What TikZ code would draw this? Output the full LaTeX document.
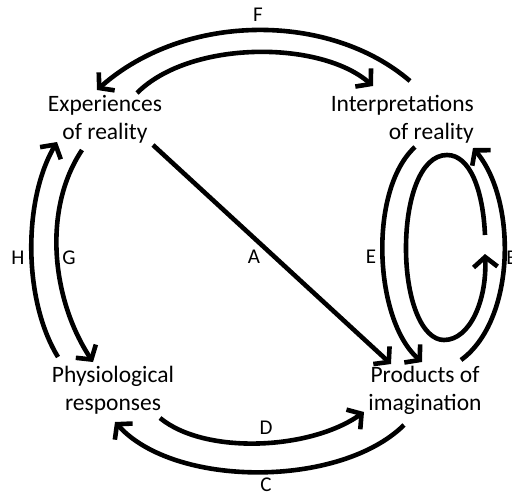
\documentclass[tikz,border=0pt]{standalone}
\usepackage{fontspec}
\setmainfont{Carlito}
\usetikzlibrary{arrows.meta}
\tikzset{
  conn/.style={line width=4.6pt, -{Straight Barb[length=10pt,width=24pt,line width=4.6pt]}},
  place/.style={font=\fontsize{23.5}{28}\selectfont, inner sep=0pt},
  lab/.style={font=\fontsize{21}{24}\selectfont, inner sep=0pt}
}
\begin{document}
\begin{tikzpicture}[x=1pt,y=-1pt]
\useasboundingbox (0,0) rectangle (512,496);
% nodes
\node[place, align=center] (exp) at (105,119) {Experiences\\of reality};
\node[place, align=right, anchor=east] (int) at (474,119) {Interpretations\\of reality};
\node[place, align=center] (phy) at (113,390) {Physiological\\responses};
\node[place, align=center] (pro) at (425,390) {Products of\\imagination};
% connector ends
\coordinate (f1) at (410,81);  \coordinate (f2) at (97,90);
\coordinate (g1) at (137,93);  \coordinate (g2) at (373,86);
\coordinate (h1) at (58,357);  \coordinate (h2) at (57,142);
\coordinate (i1) at (82,150);  \coordinate (i2) at (93,362);
\coordinate (d1) at (160,418); \coordinate (d2) at (364,412);
\coordinate (c1) at (404,425); \coordinate (c2) at (115,422);
\coordinate (a1) at (153,145); \coordinate (a2) at (391,364);
\coordinate (e1) at (415,147); \coordinate (e2) at (422,362);
\coordinate (b1) at (461,360); \coordinate (b2) at (473,148);
\coordinate (l1) at (485,235); \coordinate (l2) at (485,254);
% F (outer top, to Experiences)
\draw[conn] (f1) .. controls (330,12) and (185,12) .. (f2);
% inner top, to Interpretations
\draw[conn] (g1) .. controls (190,40) and (320,40) .. (g2);
% H (outer left, up)
\draw[conn] (h1) .. controls (23,300) and (23,200) .. (h2);
% G (inner left, down)
\draw[conn] (i1) .. controls (42,210) and (52,300) .. (i2);
% D
\draw[conn] (d1) .. controls (205,455) and (310,450) .. (d2);
% C
\draw[conn] (c1) .. controls (340,488) and (175,488) .. (c2);
% A
\draw[conn] (a1) -- (a2);
% E
\draw[conn] (e1) .. controls (368,190) and (374,320) .. (e2);
% B
\draw[conn] (b1) .. controls (516,320) and (517,200) .. (b2);
% inner loop
\draw[conn] (l1) .. controls (483,190) and (470,155) .. (447,155)
  .. controls (420,155) and (406,200) .. (406,248)
  .. controls (406,300) and (422,340) .. (444,340)
  .. controls (470,340) and (487,300) .. (l2);
% labels
\node[lab] (lF) at (258,15) {F};
\node[lab] (lH) at (18,258) {H};
\node[lab] (lG) at (69,258) {G};
\node[lab] (lA) at (254,257) {A};
\node[lab] (lE) at (371,257) {E};
\node[lab] (lB) at (512,258) {B};
\node[lab] (lD) at (266,428) {D};
\node[lab] (lC) at (266,485) {C};
\end{tikzpicture}
\end{document}
